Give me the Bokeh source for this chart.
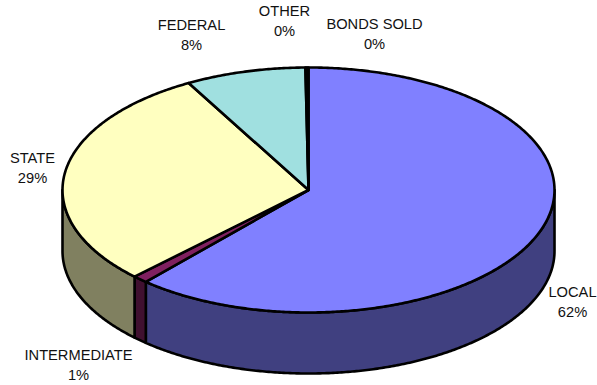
import math

from bokeh.core.properties import value
from bokeh.embed import file_html
from bokeh.models import ColumnDataSource
from bokeh.plotting import figure
from bokeh.resources import INLINE

# Share of funding by source, in slice order going clockwise from the top.
categories = ["LOCAL", "INTERMEDIATE", "STATE", "FEDERAL", "OTHER", "BONDS SOLD"]
shares = [61.5, 1.0, 29.4, 7.9, 0.1, 0.1]

top_colors = ["#8080FF", "#802060", "#FFFFC0", "#A0E0E0", "#FFFFFF", "#60A0C0"]
side_colors = ["#404080", "#401030", "#808060", "#507070", "#808080", "#305060"]

# Pie geometry in page pixels.
CX, CY = 308.0, 189.5
RX, RY = 246.0, 122.5
DEPTH = 61.0
START_DEG = 0.0
OUTLINE = 2.6

# Label anchors in page pixels: centre x, middle y of the first line.
label_pos = {
    "LOCAL": (572, 291),
    "INTERMEDIATE": (78, 354),
    "STATE": (32, 157),
    "FEDERAL": (191, 24),
    "OTHER": (284, 10),
    "BONDS SOLD": (374, 23),
}
LINE_GAP = 20.5


def rim(t_deg, dy=0.0):
    t = math.radians(t_deg)
    return CX + RX * math.sin(t), CY - RY * math.cos(t) + dy


def arc(a, b, dy=0.0):
    n = max(2, int(abs(b - a) * 2) + 1)
    return [rim(a + (b - a) * i / (n - 1), dy) for i in range(n)]


p = figure(
    width=597,
    height=385,
    x_range=(0, 597),
    y_range=(385, 0),
    output_backend="svg",
    toolbar_location=None,
    min_border=0,
    outline_line_color=None,
    background_fill_color="white",
    border_fill_color="white",
)
p.axis.visible = False
p.grid.visible = False

# Slice boundaries as angles, measured clockwise from the top of the ellipse.
total = sum(shares)
edges = [START_DEG]
for s in shares:
    edges.append(edges[-1] + 360.0 * s / total)

# Outer wall: only the part of each slice on the near half of the ellipse shows.
wall_x, wall_y, wall_c = [], [], []
for i in range(len(shares)):
    a, b = max(edges[i], 90.0), min(edges[i + 1], 270.0)
    if b <= a:
        continue
    upper = arc(a, b)
    lower = arc(b, a, DEPTH)
    pts = upper + lower
    wall_x.append([q[0] for q in pts])
    wall_y.append([q[1] for q in pts])
    wall_c.append(side_colors[i])

p.patches(
    "x", "y", source=ColumnDataSource(dict(x=wall_x, y=wall_y, c=wall_c)),
    fill_color="c", line_color="black", line_width=OUTLINE, line_join="round",
)

# Top face of each slice.
top_x, top_y, top_c = [], [], []
for i in range(len(shares)):
    pts = [(CX, CY)] + arc(edges[i], edges[i + 1])
    top_x.append([q[0] for q in pts])
    top_y.append([q[1] for q in pts])
    top_c.append(top_colors[i])

p.patches(
    "x", "y", source=ColumnDataSource(dict(x=top_x, y=top_y, c=top_c)),
    fill_color="c", line_color="black", line_width=OUTLINE, line_join="round",
)

# Two-line labels: category name above its rounded percentage.
tx, ty, tt = [], [], []
for name, s in zip(categories, shares):
    x, y = label_pos[name]
    tx += [x, x]
    ty += [y, y + LINE_GAP]
    tt += [name, f"{round(s)}%"]

p.text(
    "x", "y", text="t", source=ColumnDataSource(dict(x=tx, y=ty, t=tt)),
    text_font=value("Liberation Sans"), text_font_size="14.67px",
    text_color="#111111", text_align="center", text_baseline="middle",
)

open("out.html", "w").write(file_html(p, INLINE))
